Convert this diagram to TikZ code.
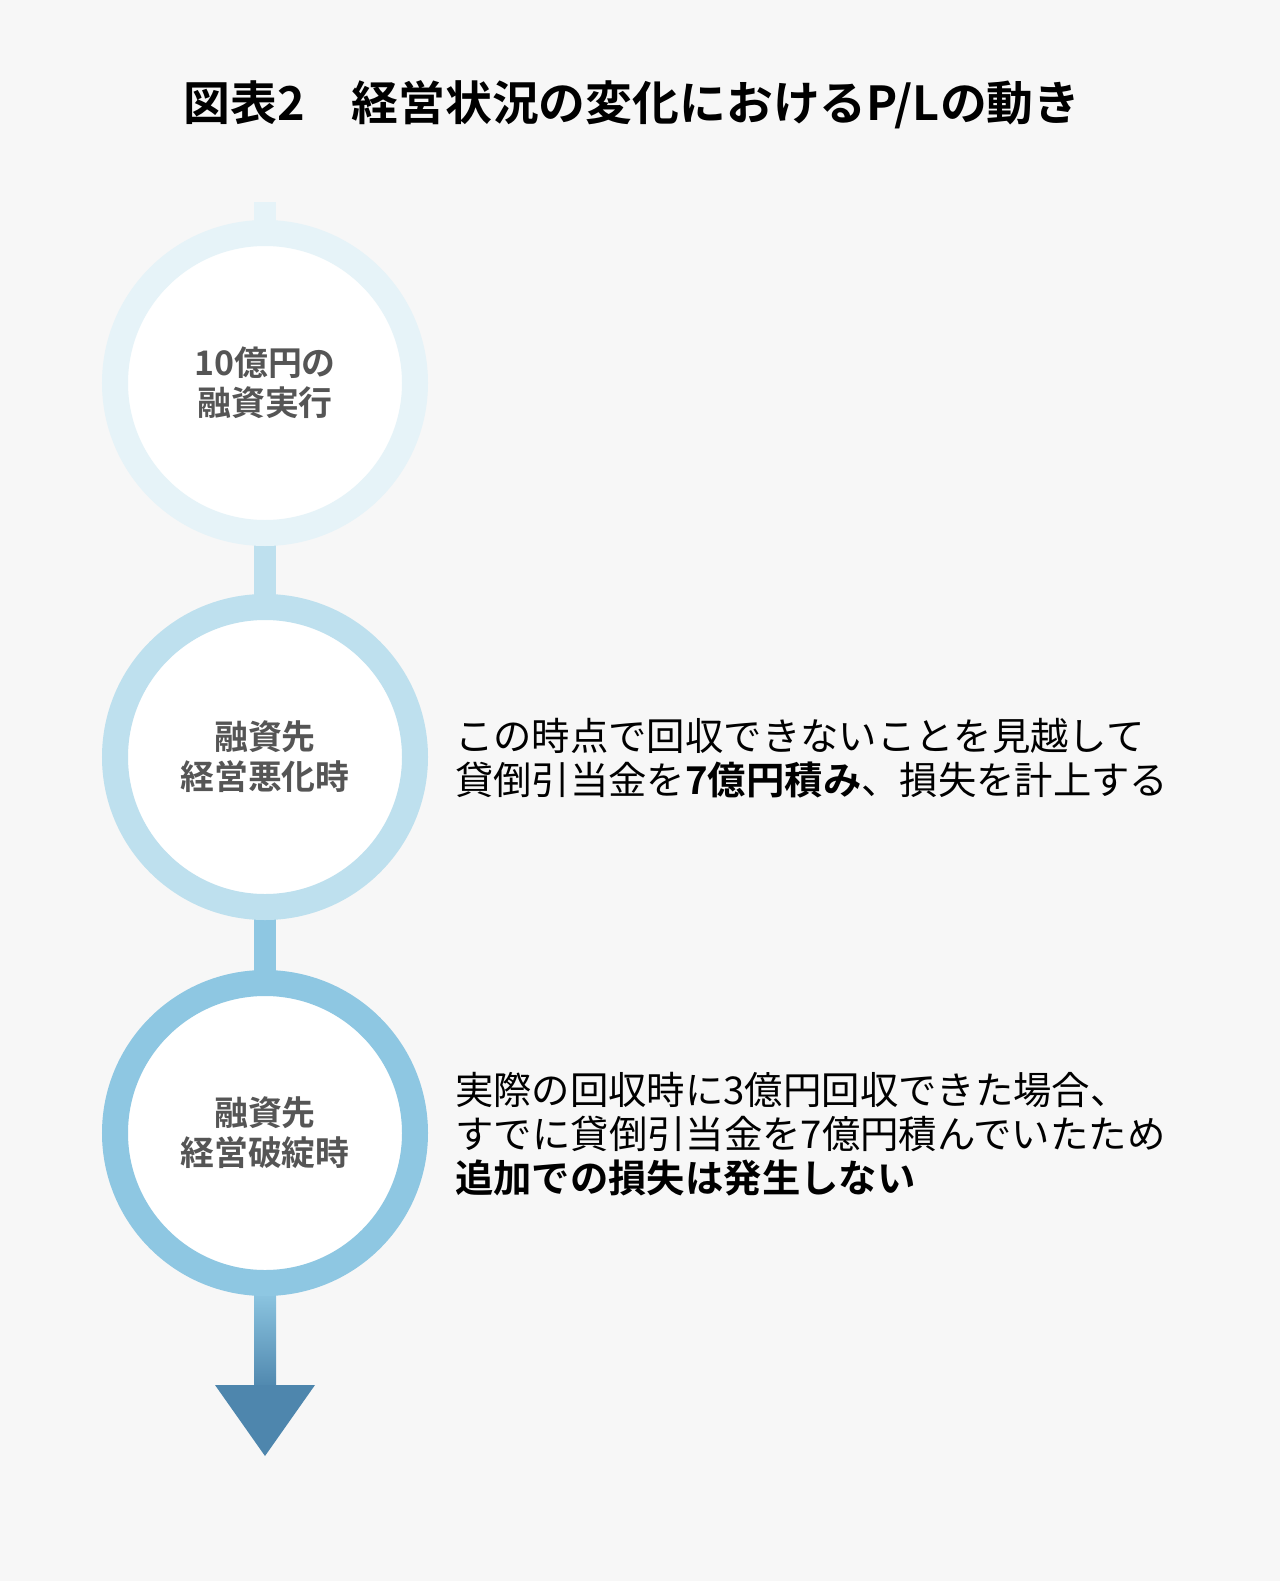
\documentclass[tikz,border=0pt]{standalone}
\usepackage{fontspec}
\setmainfont{Noto Sans CJK JP}[BoldFont={* Bold}]
\definecolor{bg}{HTML}{F7F7F7}
\definecolor{ringA}{HTML}{E6F3F8}
\definecolor{ringB}{HTML}{BEE0EE}
\definecolor{ringC}{HTML}{8EC7E2}
\definecolor{arrD}{HTML}{4E86AD}
\definecolor{ctext}{HTML}{555555}
\begin{document}
\begin{tikzpicture}[x=1bp,y=-1bp,
  ring/.style={circle,minimum size=300bp,line width=26bp,fill=white,inner sep=0pt,align=center,text=ctext,font=\fontsize{34}{40}\selectfont\bfseries},
  desc/.style={anchor=west,align=left,font=\fontsize{38.5}{44}\selectfont,inner sep=0pt}]
\fill[bg] (0,0) rectangle (1280,1581);
\useasboundingbox (0,0) rectangle (1280,1581);
\node[font=\fontsize{47}{52}\selectfont\bfseries] (title) at (632,105) {図表2\hspace{1em}経営状況の変化におけるP/Lの動き};
\coordinate (top) at (265,202);
\coordinate (p1) at (265,383);
\coordinate (p2) at (265,757);
\coordinate (p3) at (265,1133);
\draw[line width=22bp,ringA] (top) -- (p1);
\draw[line width=22bp,ringB] (p1) -- (p2);
\draw[line width=22bp,ringC] (p2) -- (p3);
\shade[top color=ringC,bottom color=arrD] (254,1290) rectangle (276,1390);
\fill[arrD] (215,1385) -- (315,1385) -- (265,1456) -- cycle;
\node[ring,draw=ringA] (c1) at (p1) {10億円の\\融資実行};
\node[ring,draw=ringB] (c2) at (p2) {融資先\\経営悪化時};
\node[ring,draw=ringC] (c3) at (p3) {融資先\\経営破綻時};
\node[desc] (t2) at (455,758) {この時点で回収できないことを見越して\\貸倒引当金を\textbf{7億円積み}、損失を計上する};
\node[desc] (t3) at (455,1134) {実際の回収時に3億円回収できた場合、\\すでに貸倒引当金を7億円積んでいたため\\\textbf{追加での損失は発生しない}};
\end{tikzpicture}
\end{document}
